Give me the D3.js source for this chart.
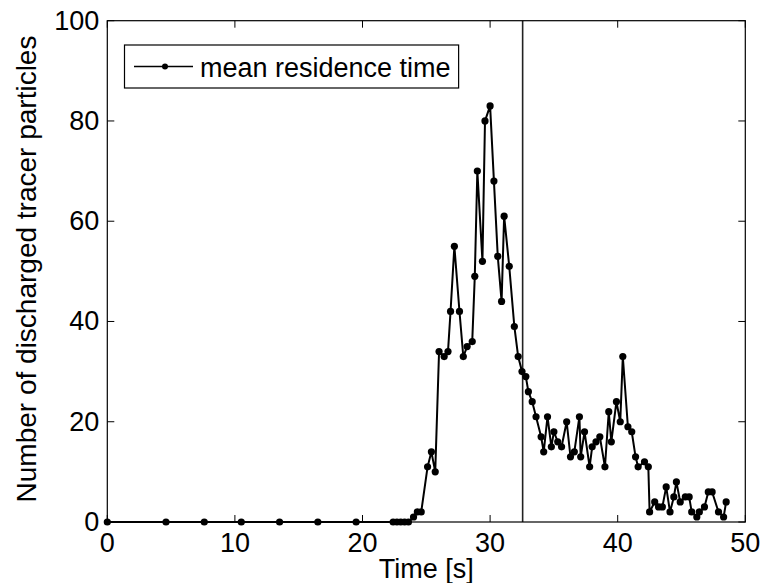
<!DOCTYPE html>
<html><head><meta charset="utf-8">
<script src="https://cdn.jsdelivr.net/npm/d3@7"></script>
<style>body{margin:0;background:#fff}svg text{font-family:Arial,"Liberation Sans",sans-serif;fill:#000}</style>
</head><body><svg id="c" width="761" height="583"></svg>
<script>
const times = [0,4.6,7.6,10.5,13.5,16.5,19.5,22.4,22.7,23.0,23.3,23.6,24.0,24.3,24.6,25.1,25.4,25.7,26.0,26.4,26.7,26.9,27.2,27.6,27.9,28.2,28.6,28.8,29.0,29.4,29.6,30.0,30.3,30.6,30.9,31.1,31.5,31.9,32.2,32.5,32.8,33.0,33.3,33.6,34.0,34.2,34.5,34.8,35.0,35.3,35.6,36.0,36.3,36.6,37.0,37.1,37.4,37.8,38.0,38.3,38.6,39.0,39.3,39.5,39.9,40.2,40.4,40.8,41.1,41.4,41.6,42.1,42.4,42.5,42.9,43.2,43.5,43.8,44.1,44.4,44.6,44.9,45.3,45.6,45.8,46.2,46.4,46.8,47.1,47.4,47.9,48.3,48.5];
const counts = [0,0,0,0,0,0,0,0,0,0,0,0,1,2,2,11,14,10,34,33,34,42,55,42,33,35,36,49,70,52,80,83,68,53,44,61,51,39,33,30,29,26,24,21,17,14,21,15,18,16,15,20,13,14,21,13,18,11,15,16,17,11,22,16,24,20,33,19,18,13,11,12,11,2,4,3,3,7,2,5,8,4,5,5,2,1,2,3,6,6,2,1,4];
const meanTime = 32.55;
const xTicks = [0,10,20,30,40,50];
const yTicks = [0,20,40,60,80,100];
const seriesName = "mean residence time";
const xLabel = "Time [s]";
const yLabel = "Number of discharged tracer particles";

const svg = d3.select("#c");
const L=107.3,R=745.3,T=20.7,B=522;
const x = d3.scaleLinear().domain([0,50]).range([L,R]);
const y = d3.scaleLinear().domain([0,100]).range([B,T]);
const data = times.map((t,i)=>({t,v:counts[i]}));
const FS = 27;

// ticks (inward, all sides)
const tl=7;
const g = svg.append("g");
xTicks.forEach(v=>{
  g.append("line").attr("x1",x(v)).attr("x2",x(v)).attr("y1",B).attr("y2",B-tl).attr("stroke","#000");
  g.append("line").attr("x1",x(v)).attr("x2",x(v)).attr("y1",T).attr("y2",T+tl).attr("stroke","#000");
  g.append("text").attr("x",x(v)).attr("y",B+29.5).attr("text-anchor","middle").attr("font-size",FS).text(v);
});
yTicks.forEach(v=>{
  g.append("line").attr("x1",L).attr("x2",L+tl).attr("y1",y(v)).attr("y2",y(v)).attr("stroke","#000");
  g.append("line").attr("x1",R).attr("x2",R-tl).attr("y1",y(v)).attr("y2",y(v)).attr("stroke","#000");
  g.append("text").attr("x",L-8).attr("y",y(v)+9).attr("text-anchor","end").attr("font-size",FS).text(v);
});

// vertical mean line
svg.append("line").attr("x1",x(meanTime)).attr("x2",x(meanTime)).attr("y1",T).attr("y2",B).attr("stroke","#222").attr("stroke-width",1.6);

// series
const line = d3.line().x(d=>x(d.t)).y(d=>y(d.v));
svg.append("path").datum(data).attr("d",line).attr("fill","none").attr("stroke","#000").attr("stroke-width",2);
svg.append("g").selectAll("circle").data(data).join("circle")
  .attr("cx",d=>x(d.t)).attr("cy",d=>y(d.v)).attr("r",3.6).attr("fill","#000");

// box
svg.append("rect").attr("x",L).attr("y",T).attr("width",R-L).attr("height",B-T).attr("fill","none").attr("stroke","#000").attr("stroke-width",1.2);

// legend
const lg = svg.append("g");
const lbox = lg.append("rect").attr("x",124.5).attr("y",45).attr("height",43).attr("fill","#fff").attr("stroke","#000").attr("stroke-width",1.2);
lg.append("line").attr("x1",134).attr("x2",193).attr("y1",66.5).attr("y2",66.5).attr("stroke","#000").attr("stroke-width",1.5);
lg.append("circle").attr("cx",165).attr("cy",66.5).attr("r",3).attr("fill","#000");
const lt = lg.append("text").attr("x",200).attr("y",76.5).attr("font-size",FS).text(seriesName);
lbox.attr("width", 200 + lt.node().getComputedTextLength() + 8 - 124.5);

// axis labels
svg.append("text").attr("x",(L+R)/2).attr("y",578).attr("text-anchor","middle").attr("font-size",FS).text(xLabel);
svg.append("text").attr("transform",`translate(36,269) rotate(-90)`).attr("text-anchor","middle").attr("font-size",28).text(yLabel);
</script></body></html>
